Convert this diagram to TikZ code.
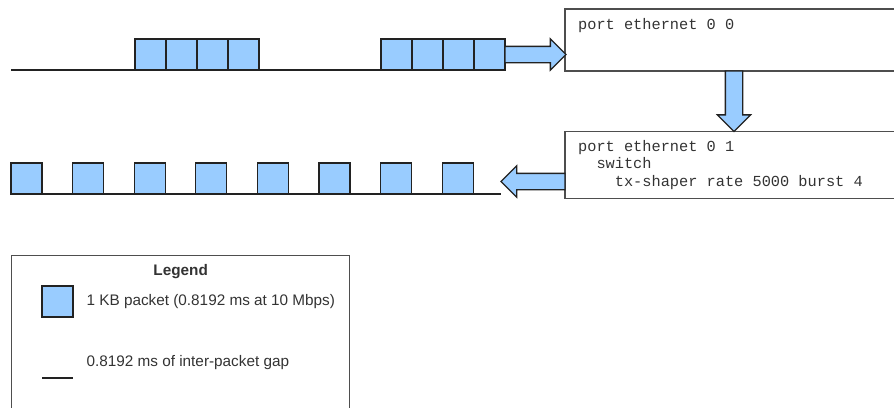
\documentclass[tikz,border=0pt]{standalone}
\usepackage{fontspec}
\setmainfont{Liberation Sans}
\setmonofont{Liberation Mono}
\usetikzlibrary{shapes,shapes.arrows,positioning,calc}
\definecolor{pktblue}{HTML}{99CCFF}
\definecolor{ink}{HTML}{222222}
\definecolor{txt}{HTML}{333333}

\begin{document}
\begin{tikzpicture}[x=1pt, y=-1pt, line width=1.3pt, node distance=0pt,
	pkt/.style={draw=ink, fill=pktblue, minimum size=31pt, inner sep=0pt, outer sep=0pt},
	fatarrow/.style={single arrow, draw=ink, fill=pktblue, inner sep=7.5pt, outer sep=0pt, single arrow head extend=7.5pt},
	cfgbox/.style={draw=ink!80, minimum width=360pt, inner sep=0pt, outer sep=0pt},
	cfgtext/.style={font=\ttfamily\fontsize{15.3pt}{17.5pt}\selectfont, text=txt, inner sep=0pt, align=left},
	legtext/.style={font=\fontsize{15.3pt}{17.5pt}\selectfont, text=txt, inner sep=0pt},
	legtitle/.style={font=\bfseries\fontsize{15.3pt}{17.5pt}\selectfont, text=txt, inner sep=0pt}]
					\useasboundingbox (0,0) rectangle (894,407);
					\clip (0,0) rectangle (894,407);
					
					\coordinate (inA) at (11,70);
					\node[pkt, anchor=south west] (a1) at (135,70) {};
					\node[pkt, right=of a1] (a2) {};
					\node[pkt, right=of a2] (a3) {};
					\node[pkt, right=of a3] (a4) {};
					\node[pkt, anchor=south west] (b1) at (381,70) {};
					\node[pkt, right=of b1] (b2) {};
					\node[pkt, right=of b2] (b3) {};
					\node[pkt, right=of b3] (b4) {};
					
					\draw[ink] (inA) -- (a1.south west);
					\draw[ink] (a4.south east) -- (b1.south west);
					
					\node[cfgbox, minimum height=62pt, anchor=north west] (port0) at (565,9) {};
					\node[cfgtext, anchor=north west] (port0txt) at ([shift={(12.5pt,-9pt)}]port0.north west) {port ethernet 0 0};
					\node[cfgbox, minimum height=67pt, below=60.5pt of port0] (port1) {};
					\node[cfgtext, anchor=north west] (port1txt) at ([shift={(12.5pt,-8pt)}]port1.north west) {port ethernet 0 1\\\hphantom{xx}switch\\\hphantom{xxxx}tx-shaper rate 5000 burst 4};
					
					\node[fatarrow, minimum height=61pt, anchor=tail] (arrIn) at (b4.east) {};
					\node[fatarrow, minimum height=60.5pt, inner sep=8pt, single arrow head extend=8pt, shape border rotate=270, anchor=tail] (arrDown) at ([xshift=169pt]port0.south west) {};
					\node[fatarrow, minimum height=64pt, shape border rotate=180, anchor=tail] (arrOut) at ([yshift=17pt]port1.south west) {};
					
					\node[pkt, anchor=south west] (c1) at (11,194) {};
					\node[pkt, right=30.6pt of c1] (c2) {};
					\node[pkt, right=30.6pt of c2] (c3) {};
					\node[pkt, right=30.6pt of c3] (c4) {};
					\node[pkt, right=30.6pt of c4] (c5) {};
					\node[pkt, right=30.6pt of c5] (c6) {};
					\node[pkt, right=30.6pt of c6] (c7) {};
					\node[pkt, right=30.6pt of c7] (c8) {};
					
					\draw[ink] (c1.south west) -- (arrOut.tip |- c8.south east);
					
					\node[draw=ink!80, minimum width=338pt, minimum height=200pt, inner sep=0pt, anchor=north west] (legend) at (11,255) {};
					\node[legtitle, below=8.5pt of legend.north] (legTitle) {Legend};
					\node[pkt, anchor=north west] (legPkt) at (42,286) {};
					\node[legtext, right=13pt of legPkt] (legPktTxt) {1 KB packet (0.8192 ms at 10 Mbps)};
					\coordinate (legGapA) at (42,378);
					\coordinate[right=31pt of legGapA] (legGapB);
					\draw[ink] (legGapA) -- (legGapB);
					\node[legtext, anchor=west] (legGapTxt) at (86,363) {0.8192 ms of inter-packet gap};
				\end{tikzpicture}
\end{document}
